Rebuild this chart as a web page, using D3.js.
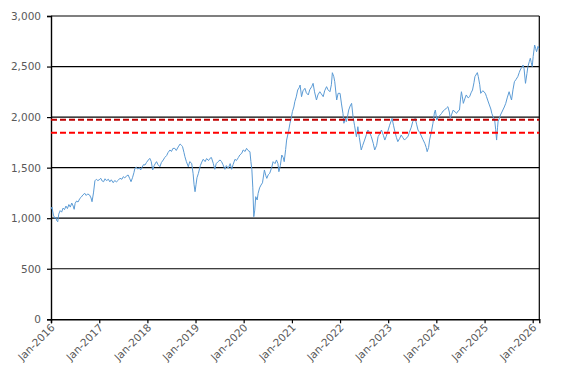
<!DOCTYPE html>
<html><head><meta charset="utf-8">
<script src="https://cdn.jsdelivr.net/npm/d3@7"></script>
<style>
html,body{margin:0;padding:0;background:#fff;}
svg{display:block;}
</style></head>
<body>
<svg id="chart" width="567" height="383"></svg>
<script>
// decimal-year dates and index values
const years = [
2016.00,2016.02,2016.05,2016.08,2016.10,2016.12,2016.14,2016.16,2016.19,2016.22,2016.25,2016.28,2016.31,2016.34,2016.37,2016.40,2016.43,2016.46,2016.48,2016.50,2016.53,2016.56,2016.60,2016.63,2016.66,2016.70,2016.73,2016.76,2016.80,2016.83,2016.85,2016.88,2016.91,2016.94,2016.97,
2017.00,2017.03,2017.06,2017.09,2017.12,2017.15,2017.19,2017.22,2017.25,2017.29,2017.32,2017.36,2017.40,2017.43,2017.47,2017.50,2017.53,2017.57,2017.60,2017.63,2017.66,2017.69,2017.72,2017.74,2017.77,2017.80,2017.83,2017.86,2017.89,2017.92,2017.95,2017.98,
2018.02,2018.05,2018.08,2018.11,2018.14,2018.17,2018.19,2018.22,2018.26,2018.29,2018.33,2018.36,2018.40,2018.43,2018.47,2018.50,2018.53,2018.57,2018.60,2018.64,2018.68,2018.71,2018.73,2018.76,2018.78,2018.81,2018.85,2018.88,2018.92,2018.95,2018.97,2018.99,
2019.01,2019.03,2019.06,2019.10,2019.13,2019.16,2019.20,2019.23,2019.27,2019.30,2019.33,2019.37,2019.40,2019.43,2019.47,2019.51,2019.54,2019.57,2019.61,2019.64,2019.68,2019.72,2019.75,2019.78,2019.82,2019.85,2019.89,2019.92,2019.96,2019.99,
2020.03,2020.06,2020.09,2020.13,2020.15,2020.17,2020.19,2020.21,2020.23,2020.25,2020.28,2020.30,2020.33,2020.36,2020.39,2020.43,2020.46,2020.48,2020.51,2020.54,2020.58,2020.61,2020.65,2020.68,2020.71,2020.73,2020.76,2020.79,2020.82,2020.84,2020.87,2020.89,2020.93,2020.96,2020.99,
2021.01,2021.04,2021.06,2021.09,2021.12,2021.15,2021.17,2021.20,2021.23,2021.27,2021.30,2021.34,2021.37,2021.41,2021.44,2021.47,2021.51,2021.54,2021.58,2021.61,2021.65,2021.68,2021.72,2021.75,2021.79,2021.82,2021.84,2021.87,2021.89,2021.93,2021.96,
2022.00,2022.03,2022.06,2022.08,2022.11,2022.13,2022.16,2022.18,2022.21,2022.24,2022.27,2022.30,2022.34,2022.37,2022.40,2022.44,2022.47,2022.51,2022.55,2022.58,2022.62,2022.65,2022.69,2022.72,2022.76,2022.79,2022.83,2022.86,2022.90,2022.93,2022.96,2022.99,
2023.03,2023.06,2023.08,2023.11,2023.14,2023.17,2023.20,2023.24,2023.27,2023.30,2023.34,2023.37,2023.41,2023.44,2023.48,2023.51,2023.54,2023.56,2023.59,2023.62,2023.65,2023.68,2023.72,2023.76,2023.79,2023.81,2023.84,2023.86,2023.90,2023.93,2023.96,2023.98,
2024.01,2024.04,2024.08,2024.11,2024.14,2024.17,2024.21,2024.24,2024.27,2024.29,2024.32,2024.35,2024.39,2024.42,2024.45,2024.48,2024.50,2024.52,2024.54,2024.56,2024.59,2024.62,2024.66,2024.69,2024.72,2024.75,2024.78,2024.80,2024.82,2024.85,2024.87,2024.90,2024.92,2024.96,2024.99,
2025.02,2025.04,2025.07,2025.10,2025.13,2025.15,2025.18,2025.21,2025.23,2025.25,2025.27,2025.28,2025.31,2025.33,2025.36,2025.38,2025.41,2025.44,2025.47,2025.51,2025.54,2025.56,2025.59,2025.62,2025.65,2025.69,2025.72,2025.74,2025.77,2025.80,2025.82,2025.85,2025.88,2025.90,2025.93,2025.95,2025.97,2025.99,
2026.01,2026.04,2026.06,2026.08,2026.11,2026.13
];
const values = [
1090,1110,1030,1000,1010,975,965,1040,1075,1060,1100,1085,1120,1095,1135,1110,1150,1120,1088,1147,1170,1160,1197,1210,1230,1246,1225,1240,1229,1200,1163,1250,1370,1385,1372,
1380,1395,1368,1361,1390,1372,1385,1360,1380,1351,1372,1360,1378,1395,1385,1411,1398,1420,1427,1395,1361,1400,1450,1493,1505,1485,1500,1477,1505,1530,1526,1550,
1576,1592,1560,1477,1520,1545,1559,1530,1509,1550,1576,1600,1620,1650,1675,1660,1690,1691,1670,1705,1734,1720,1708,1650,1608,1560,1509,1560,1542,1440,1330,1262,
1330,1400,1444,1520,1555,1583,1560,1590,1570,1592,1600,1540,1484,1540,1560,1576,1560,1530,1484,1520,1494,1540,1484,1530,1583,1570,1600,1625,1642,1675,
1660,1691,1670,1658,1560,1480,1300,1015,1080,1213,1180,1246,1300,1328,1350,1477,1420,1394,1430,1444,1500,1559,1540,1576,1540,1460,1520,1625,1600,1559,1680,1773,1860,1939,2000,
2054,2100,2152,2200,2268,2290,2317,2202,2260,2285,2240,2219,2270,2300,2334,2250,2169,2220,2251,2230,2202,2260,2301,2270,2251,2320,2439,2400,2350,2169,2235,
2235,2130,2037,1939,1990,1955,2020,2070,2110,2136,2004,1920,1806,1905,1800,1675,1720,1773,1830,1872,1840,1806,1740,1675,1720,1806,1840,1872,1820,1773,1810,1856,
1920,1960,1988,1920,1856,1800,1757,1790,1823,1800,1773,1790,1806,1850,1900,1955,1970,1988,1930,1872,1850,1823,1780,1741,1700,1658,1700,1773,1860,1939,2040,2070,
1971,2000,2020,2037,2060,2070,2090,2103,2050,1988,2030,2070,2050,2037,2060,2070,2170,2251,2200,2136,2180,2219,2190,2202,2240,2268,2340,2400,2416,2440,2400,2320,2235,2260,2251,
2230,2202,2160,2120,2080,2037,2000,1971,1880,1773,1900,1955,1990,2021,2050,2070,2100,2136,2190,2251,2200,2169,2270,2350,2370,2400,2440,2466,2490,2515,2480,2334,2430,2499,2550,2582,2540,2499,
2600,2713,2680,2647,2700,2680
];
const refLevels = [1974, 1846];
const refColors = ["#C00000", "#FF0000"];
const yTicks = [0, 500, 1000, 1500, 2000, 2500, 3000];
const xTickYears = [2016,2017,2018,2019,2020,2021,2022,2023,2024,2025,2026];
const domainStart = 2016.0, domainEnd = 2026.137;

function decToDate(d){
  const y = Math.floor(d);
  const s = new Date(y,0,1), n = new Date(y+1,0,1);
  return new Date(+s + (d - y) * (n - s));
}

const data = years.map((y,i)=>({date:decToDate(y), value:values[i]}));

const m = {left:51, top:16, right:539.3, bottom:319.3};
const svg = d3.select("#chart");
const x = d3.scaleTime().domain([decToDate(domainStart), decToDate(domainEnd)]).range([m.left, m.right]);
const y = d3.scaleLinear().domain([0,3000]).range([m.bottom, m.top]);

const font = "'DejaVu Sans', Verdana, sans-serif";

// gridlines
svg.append("g").selectAll("line").data(yTicks.filter(v=>v>0)).join("line")
  .attr("x1", m.left).attr("x2", m.right)
  .attr("y1", d=>y(d)).attr("y2", d=>y(d))
  .attr("stroke","#000").attr("stroke-width",1.2);

// right border
svg.append("line").attr("x1",m.right).attr("x2",m.right).attr("y1",m.top).attr("y2",m.bottom)
  .attr("stroke","#000").attr("stroke-width",1.2);

// y axis
const yAxis = d3.axisLeft(y).tickValues(yTicks).tickSize(4).tickPadding(6).tickFormat(d3.format(","));
const gy = svg.append("g").attr("transform",`translate(${m.left},0)`).call(yAxis);
gy.select(".domain").attr("stroke","#000").attr("stroke-width",1.4);
gy.selectAll(".tick line").attr("stroke","#000").attr("stroke-width",1.2);
gy.selectAll("text").attr("font-family",font).attr("font-size","10.5px").attr("fill","#595959");

// x axis
const xAxis = d3.axisBottom(x).tickValues(xTickYears.map(v=>new Date(v,0,1))).tickSize(4).tickFormat(d3.timeFormat("%b-%Y"));
const gx = svg.append("g").attr("transform",`translate(0,${m.bottom})`).call(xAxis);
gx.select(".domain").attr("stroke","#000").attr("stroke-width",1.4);
gx.selectAll(".tick line").attr("stroke","#000").attr("stroke-width",1.2);
gx.selectAll("text").attr("font-family",font).attr("font-size","10.5px").attr("fill","#595959")
  .attr("text-anchor","end").attr("dy",null).attr("y",0)
  .attr("transform","translate(4,9) rotate(-45)");

// data line
const line = d3.line().x(d=>x(d.date)).y(d=>y(d.value));
svg.append("path").datum(data).attr("d",line)
  .attr("fill","none").attr("stroke","#5B9BD5").attr("stroke-width",1).attr("stroke-linejoin","round");

// reference lines
svg.append("g").selectAll("line").data(refLevels).join("line")
  .attr("x1", m.left).attr("x2", m.right)
  .attr("y1", d=>y(d)).attr("y2", d=>y(d))
  .attr("stroke", (d,i)=>refColors[i]).attr("stroke-width",2).attr("stroke-dasharray","6,3");
</script>
</body></html>
